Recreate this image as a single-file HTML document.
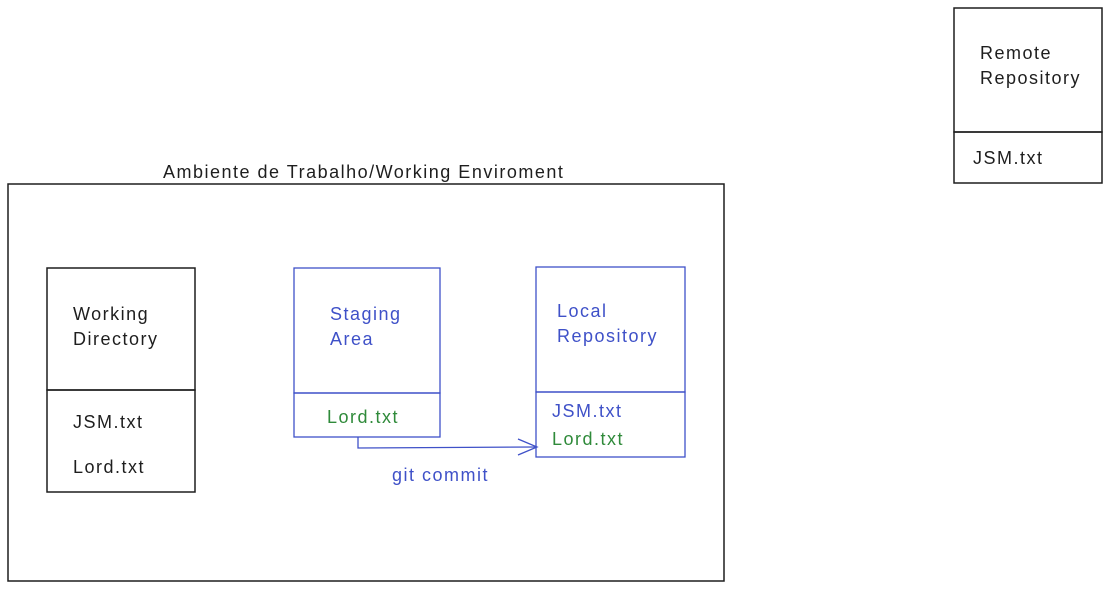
<!DOCTYPE html>
<html><head><meta charset="utf-8"><style>
html,body{margin:0;padding:0;background:#fff;}
body{width:1112px;height:591px;position:relative;overflow:hidden;font-family:"Liberation Sans",sans-serif;}
.t{position:absolute;font-size:18px;line-height:25px;white-space:nowrap;letter-spacing:1.5px;}
</style></head><body>
<svg width="1112" height="591" style="position:absolute;left:0;top:0">
<g fill="none" stroke="#1e1e1e" stroke-width="1.5">
<rect x="8" y="184" width="716" height="397"/>
<rect x="47" y="268" width="148" height="122"/>
<rect x="47" y="390" width="148" height="102"/>
<rect x="954" y="8" width="148" height="124"/>
<rect x="954" y="132" width="148" height="51"/>
</g>
<g fill="none" stroke="#3f51c8" stroke-width="1.3">
<rect x="294" y="268" width="146" height="125"/>
<rect x="294" y="393" width="146" height="44"/>
<rect x="536" y="267" width="149" height="125"/>
<rect x="536" y="392" width="149" height="65"/>
<path d="M358 437 L358 448 L537 447"/>
<path d="M518 439 L537 447 L518 455"/>
</g>
</svg>
<div class="t" style="left:163px;top:160px;color:#1e1e1e">Ambiente de Trabalho/Working Enviroment</div>
<div class="t" style="left:73px;top:302px;color:#1e1e1e">Working<br>Directory</div>
<div class="t" style="left:73px;top:410px;color:#1e1e1e">JSM.txt</div>
<div class="t" style="left:73px;top:455px;color:#1e1e1e">Lord.txt</div>
<div class="t" style="left:330px;top:302px;color:#3f51c8">Staging<br>Area</div>
<div class="t" style="left:327px;top:405px;color:#2f8a3a">Lord.txt</div>
<div class="t" style="left:557px;top:299px;color:#3f51c8">Local<br>Repository</div>
<div class="t" style="left:552px;top:399px;color:#3f51c8">JSM.txt</div>
<div class="t" style="left:552px;top:427px;color:#2f8a3a">Lord.txt</div>
<div class="t" style="left:392px;top:463px;color:#3f51c8">git commit</div>
<div class="t" style="left:980px;top:41px;color:#1e1e1e">Remote<br>Repository</div>
<div class="t" style="left:973px;top:146px;color:#1e1e1e">JSM.txt</div>
</body></html>
